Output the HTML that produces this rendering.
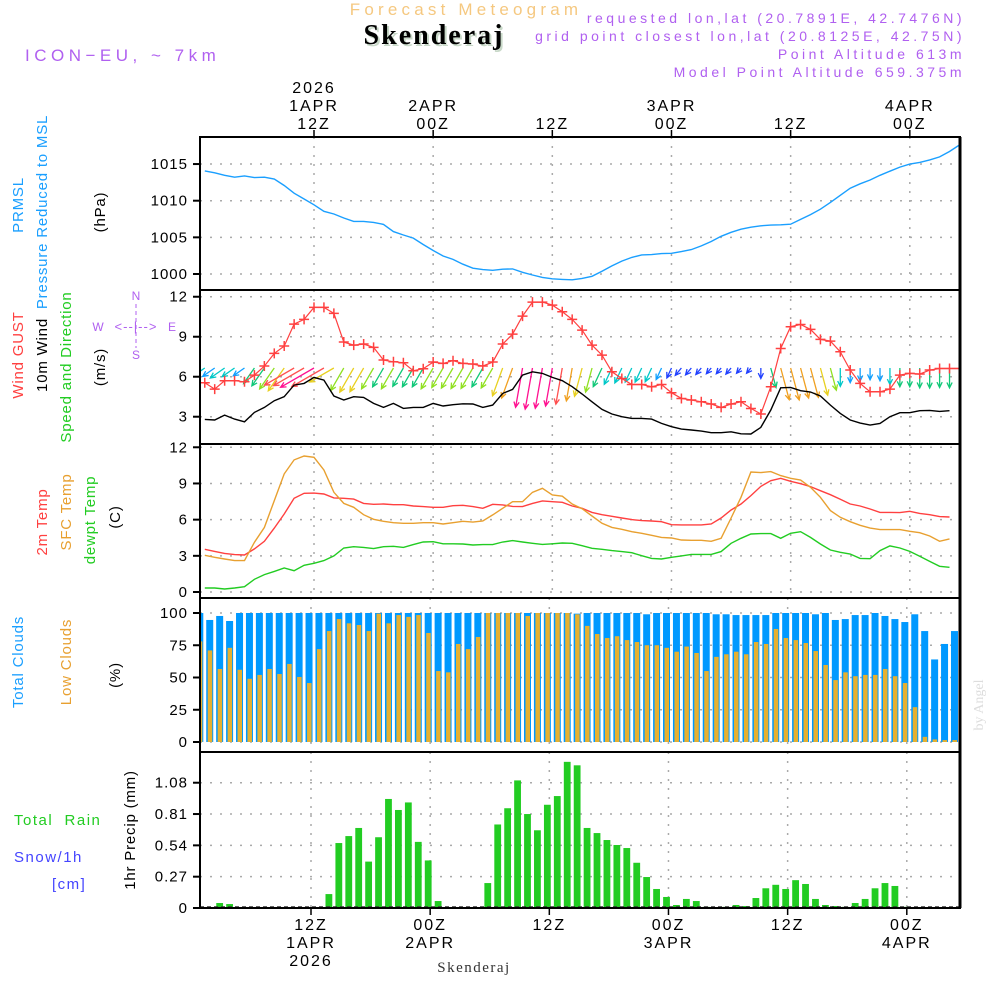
<!DOCTYPE html>
<html><head><meta charset="utf-8"><style>
html,body{margin:0;padding:0;background:#fff;}
svg{display:block;font-family:"Liberation Sans",sans-serif;}
</style></head><body>
<svg id="chart" width="1000" height="1000" viewBox="0 0 1000 1000" xmlns="http://www.w3.org/2000/svg">
<rect x="0" y="0" width="1000" height="1000" fill="#fff"/>
<defs>
<clipPath id="c1"><rect x="200" y="137" width="760" height="153"/></clipPath>
<clipPath id="c2"><rect x="200" y="290" width="760" height="154"/></clipPath>
<clipPath id="c3"><rect x="200" y="444" width="760" height="154"/></clipPath>
<clipPath id="c4"><rect x="200" y="598" width="760" height="154"/></clipPath>
<clipPath id="c5"><rect x="200" y="752" width="760" height="156"/></clipPath>
</defs>
<g>
<text x="466" y="15" text-anchor="middle" font-size="17" fill="#f5c880" letter-spacing="4.2">Forecast Meteogram</text>
<text x="436" y="46" text-anchor="middle" font-size="28" font-weight="bold" font-family="Liberation Serif,serif" fill="#c8d8c8" letter-spacing="2">Skenderaj</text>
<text x="434" y="44" text-anchor="middle" font-size="28" font-weight="bold" font-family="Liberation Serif,serif" fill="#000" letter-spacing="2">Skenderaj</text>
<text x="25" y="61" font-size="17" fill="#b060f0" letter-spacing="4.5">ICON−EU, ~ 7km</text>
<g font-size="14" fill="#b060f0" text-anchor="end" letter-spacing="3.5">
<text x="965" y="23">requested lon,lat (20.7891E, 42.7476N)</text>
<text x="965" y="41">grid point closest lon,lat (20.8125E, 42.75N)</text>
<text x="965" y="59">Point Altitude 613m</text>
<text x="965" y="77">Model Point Altitude 659.375m</text>
</g>
</g>
<g font-size="15" letter-spacing="0.8">
<text transform="translate(23,205) rotate(-90)" text-anchor="middle" fill="#1a9fff">PRMSL</text>
<text transform="translate(47,212) rotate(-90)" text-anchor="middle" fill="#1a9fff">Pressure Reduced to MSL</text>
<text transform="translate(105,212) rotate(-90)" text-anchor="middle" fill="#000">(hPa)</text>
<text transform="translate(23,355) rotate(-90)" text-anchor="middle" fill="#ff4040">Wind GUST</text>
<text transform="translate(47,355) rotate(-90)" text-anchor="middle" fill="#000">10m Wind</text>
<text transform="translate(71,367) rotate(-90)" text-anchor="middle" fill="#22cc22">Speed and Direction</text>
<text transform="translate(105,367) rotate(-90)" text-anchor="middle" fill="#000">(m/s)</text>
<g font-size="12" fill="#b060f0" text-anchor="middle" letter-spacing="0">
<text x="136" y="300">N</text><text x="98" y="331">W</text><text x="172" y="331">E</text><text x="136" y="359">S</text>
<text x="136" y="331" font-size="13" letter-spacing="1">&lt;--|--&gt;</text>
<line x1="136" y1="304" x2="136" y2="348" stroke="#b060f0" stroke-dasharray="4 3"/>
</g>
<text transform="translate(47,522) rotate(-90)" text-anchor="middle" fill="#ff4040">2m Temp</text>
<text transform="translate(71,512) rotate(-90)" text-anchor="middle" fill="#e8a030">SFC Temp</text>
<text transform="translate(95,520) rotate(-90)" text-anchor="middle" fill="#22cc22">dewpt Temp</text>
<text transform="translate(120,517) rotate(-90)" text-anchor="middle" fill="#000">(C)</text>
<text transform="translate(23,662) rotate(-90)" text-anchor="middle" fill="#1a9fff">Total Clouds</text>
<text transform="translate(71,662) rotate(-90)" text-anchor="middle" fill="#e8a030">Low Clouds</text>
<text transform="translate(120,675) rotate(-90)" text-anchor="middle" fill="#000">(%)</text>
<text x="14" y="825" fill="#22cc22" xml:space="preserve" letter-spacing="1.5">Total  Rain</text>
<text x="14" y="862" fill="#4444ff" letter-spacing="1.5">Snow/1h</text>
<text x="52" y="889" fill="#4444ff" letter-spacing="1.5">[cm]</text>
<text transform="translate(135,830) rotate(-90)" text-anchor="middle" fill="#000">1hr Precip (mm)</text>
</g>
<text transform="translate(983,705) rotate(-90)" text-anchor="middle" font-size="14" font-family="Liberation Serif,serif" fill="#ddd">by Angel</text>
<text x="474" y="972" text-anchor="middle" font-size="15" font-family="Liberation Serif,serif" fill="#333" letter-spacing="1.5">Skenderaj</text>
<g id="plot"></g>
</svg>
<script>
const pressure=[1014.07,1013.8,1013.47,1013.2,1013.38,1013.15,1013.2,1012.96,1012.08,1011.02,1010.23,1009.44,1008.56,1008.19,1007.64,1007.18,1007.18,1007.04,1006.76,1005.79,1005.32,1004.9,1004.03,1003.2,1002.45,1001.99,1001.34,1000.79,1000.6,1000.51,1000.65,1000.7,1000.23,999.86,999.54,999.35,999.26,999.21,999.4,999.68,1000.37,1001.1,1001.76,1002.27,1002.6,1002.64,1002.78,1002.82,1003.06,1003.33,1003.84,1004.44,1005.14,1005.69,1006.11,1006.39,1006.57,1006.67,1006.71,1006.8,1007.45,1008.1,1008.84,1009.77,1010.74,1011.71,1012.31,1012.82,1013.47,1014.03,1014.58,1015.0,1015.23,1015.56,1015.97,1016.71,1017.6];
const gust=[5.55,5.07,5.7,5.7,5.62,6.12,6.8,7.75,8.3,9.95,10.3,11.2,11.2,10.75,8.6,8.37,8.45,8.2,7.25,7.12,7.05,6.45,6.6,7.1,7.0,7.2,7.0,6.95,6.8,7.1,8.45,9.2,10.55,11.6,11.6,11.37,10.87,10.3,9.5,8.37,7.62,6.37,5.87,5.42,5.42,5.25,5.42,4.8,4.37,4.25,4.12,3.95,3.7,3.95,4.12,3.62,3.2,5.25,8.12,9.75,9.92,9.55,8.8,8.67,7.87,6.5,5.5,4.87,4.87,5.07,6.12,6.25,6.2,6.5,6.62,6.62,6.62];
const windSpeed=[2.8,2.75,3.12,2.82,2.62,3.32,3.7,4.2,4.5,5.37,5.5,5.95,5.75,4.55,4.25,4.5,4.45,4.0,3.7,4.0,3.62,3.7,3.7,4.0,3.8,3.9,3.97,3.95,3.7,3.87,4.75,5.05,6.12,6.37,6.25,5.95,5.7,5.25,4.7,4.12,3.55,3.2,3.0,2.87,2.87,2.82,2.5,2.25,2.07,2.0,1.92,1.8,1.8,1.87,1.72,1.7,2.2,3.5,5.17,5.2,4.95,4.85,4.55,3.87,3.25,2.75,2.52,2.37,2.5,3.0,3.3,3.3,3.45,3.47,3.4,3.45];
const windDirTo=[235,235,235,235,235,215,215,215,215,240,240,240,240,240,210,210,210,210,210,210,210,210,210,210,210,210,210,210,210,210,200,200,190,190,190,190,190,190,195,195,205,205,205,205,205,205,205,205,220,220,220,220,220,220,220,220,180,165,165,165,165,165,165,165,180,180,180,180,180,180,180,180,180,180,180,180];
const temp2m=[3.54,3.37,3.2,3.1,3.07,3.57,4.2,5.3,6.47,7.77,8.18,8.2,8.13,7.8,7.77,7.7,7.35,7.27,7.3,7.24,7.24,7.13,7.08,7.02,7.02,7.16,7.19,7.08,6.94,7.27,7.22,7.1,7.08,7.35,7.55,7.49,7.44,7.13,6.94,6.6,6.41,6.28,6.14,6.0,5.92,5.89,5.83,5.58,5.56,5.56,5.56,5.64,6.14,6.8,7.3,7.99,8.76,9.23,9.43,9.18,8.98,8.74,8.4,8.07,7.69,7.3,7.13,6.88,6.6,6.6,6.58,6.69,6.52,6.41,6.25,6.22];
const tempSfc=[3.04,2.88,2.74,2.6,2.6,4.12,5.36,7.58,9.79,10.95,11.28,11.17,10.12,8.27,7.35,7.02,6.41,6.03,5.86,5.75,5.7,5.7,5.75,5.75,5.64,5.75,5.86,5.8,5.89,6.39,6.94,7.49,7.49,8.27,8.6,8.05,7.94,7.3,6.91,6.3,5.7,5.36,5.2,5.0,4.87,4.7,4.53,4.48,4.31,4.29,4.29,4.2,4.45,6.14,7.85,9.95,9.9,9.98,9.65,9.43,9.29,8.68,7.85,6.75,6.19,5.83,5.53,5.3,5.17,5.17,5.17,5.03,4.92,4.64,4.2,4.4];
const dewpt=[0.33,0.33,0.25,0.33,0.44,1.05,1.44,1.71,1.99,1.77,2.21,2.38,2.6,2.99,3.65,3.76,3.7,3.6,3.76,3.79,3.7,3.93,4.15,4.17,4.0,4.0,3.98,3.9,3.93,3.93,4.15,4.26,4.15,4.04,3.95,4.0,4.06,4.04,3.84,3.62,3.54,3.43,3.35,3.26,3.01,2.79,2.74,2.88,2.99,3.12,3.12,3.12,3.35,4.04,4.45,4.81,4.84,4.84,4.45,4.87,5.0,4.53,3.98,3.48,3.29,3.15,2.79,2.76,3.43,3.82,3.65,3.37,2.96,2.54,2.13,2.05];
const totalCloud=[100,94.6,97.7,93.8,100,100,100,100,100,100,100,100,100,100,100,100,100,100,100,100,100,100,100,100,100,100,100,100,100,100,100,100,100,100,100,100,100,100,99.5,100,100,100,100,100,100,99,100,100,100,100,100,100,99,99,98.4,98.4,98.4,98.4,100,100,100,100,99,100,94.6,95.3,98.4,98.4,100,97.7,95.3,93,99,86,64,76,86];
const lowCloud=[78,71,56.6,73,56,49,52,56.6,52.7,60.5,50.4,45.7,72,86,95.3,92,90.7,86,99.5,92,98.4,97,98.4,84.5,55,54,76,72,81.4,100,100,100,100,97.7,100,100,100,100,99,90,83.7,80.6,82,79,77.5,75,75,73,70,74,69,55,66,68,70,68,77.5,76,87.6,80.6,79,76.7,70.5,59.7,48,54,51,52,52,56.6,51,45.7,27,4,2,1.5,1.5];
const precip=[0,0,0.043,0.034,0.003,0,0,0,0,0,0,0,0,0.12,0.56,0.62,0.69,0.40,0.61,0.94,0.845,0.91,0.57,0.41,0.06,0,0,0,0.003,0.215,0.72,0.86,1.10,0.81,0.67,0.89,0.965,1.26,1.23,0.69,0.646,0.586,0.543,0.517,0.39,0.267,0.164,0.095,0.026,0.078,0.06,0.01,0,0.01,0.026,0.017,0.086,0.17,0.2,0.164,0.24,0.207,0.078,0.026,0.017,0.01,0.043,0.078,0.17,0.215,0.19,0.01,0,0,0,0,0];
const pTicks=[1000,1005,1010,1015];
const wTicks=[3,6,9,12];
const tTicks=[0,3,6,9,12];
const cTicks=[0,25,50,75,100];
const rTicks=[0,0.27,0.54,0.81,1.08];
const rTickLabels=["0","0.27","0.54","0.81","1.08"];
const timeTicks=[12,24,36,48,60,72];
const topLabels=[["2026","1APR","12Z"],["","2APR","00Z"],["","","12Z"],["","3APR","00Z"],["","","12Z"],["","4APR","00Z"]];
const bottomLabels=[["12Z","1APR","2026"],["00Z","2APR",""],["12Z","",""],["00Z","3APR",""],["12Z","",""],["00Z","4APR",""]];

const NS="http://www.w3.org/2000/svg";
const plot=document.getElementById('plot');
function xT(t){return 314+(t-12)*9.93;}
function yP(p){return 274-(p-1000)*7.33;}
function yW(v){return 456.7-13.33*v;}
function yT(t){return 592-12.06*t;}
function yC(c){return 742-1.29*c;}
function yR(r){return 908-116*r;}
function mk(tag,attrs,parent){const e=document.createElementNS(NS,tag);for(const k in attrs)e.setAttribute(k,attrs[k]);(parent||plot).appendChild(e);return e;}
const panels=[{y0:137,y1:290,clip:'c1',ticks:pTicks,f:yP,lab:pTicks.map(String),name:'pressure'},
{y0:290,y1:444,clip:'c2',ticks:wTicks,f:yW,lab:wTicks.map(String),name:'wind'},
{y0:444,y1:598,clip:'c3',ticks:tTicks,f:yT,lab:tTicks.map(String),name:'temp'},
{y0:598,y1:752,clip:'c4',ticks:cTicks,f:yC,lab:cTicks.map(String),name:'clouds'},
{y0:752,y1:908,clip:'c5',ticks:rTicks,f:yR,lab:rTickLabels,name:'precip'}];
panels.forEach((pn,pi)=>{
  const g=mk('g',{'clip-path':'url(#'+pn.clip+')'});
  
  
  const off=pi>=3?-3:0;
  timeTicks.forEach(t=>{mk('line',{x1:xT(t)+off,x2:xT(t)+off,y1:pn.y0,y2:pn.y1,stroke:'#aaa','stroke-width':1.5,'stroke-dasharray':'2 7'},g);});
  pn.ticks.forEach((v,k)=>{
    const y=pn.f(v);
    mk('line',{x1:200,x2:960,y1:y,y2:y,stroke:'#aaa','stroke-width':1.5,'stroke-dasharray':'2 8'},g);
    const tk=mk('line',{x1:193,x2:200,y1:y,y2:y,stroke:'#000','stroke-width':2});
    
    
    const tx=mk('text',{x:188,y:y+5,'text-anchor':'end','font-size':15,fill:'#000','letter-spacing':1});
    tx.textContent=pn.lab[k];
    
    
  });
});
const gc=mk('g',{'clip-path':'url(#c4)'});


totalCloud.forEach((v,i)=>{
  const c=xT(i+0.5);
  const b=mk('rect',{x:c-3.5,y:yC(v),width:7,height:yC(0)-yC(v),fill:'#0099ff'},gc);
  
  
  const o=mk('rect',{x:c-2,y:yC(lowCloud[i]),width:4.5,height:yC(0)-yC(lowCloud[i]),fill:'#e6b030'},gc);
  
  
});
const gr=mk('g',{'clip-path':'url(#c5)'});


precip.forEach((v,i)=>{
  if(v<=0)return;
  const c=xT(i+0.5);
  const b=mk('rect',{x:c-3.4,y:yR(v),width:6.8,height:yR(0)-yR(v),fill:'#22cc22'},gr);
  
  
});
mk('line',{x1:200,x2:960,y1:907,y2:907,stroke:'#333','stroke-width':1.5,'stroke-dasharray':'4 3'});
function line(arr,fy,color,clip,name,w){
  const pts=arr.map((v,j)=>xT(j+1).toFixed(1)+','+fy(v).toFixed(1)).join(' ');
  const p=mk('polyline',{points:pts,fill:'none',stroke:color,'stroke-width':w||1.4,'clip-path':'url(#'+clip+')'});
  
  
}
line(pressure,yP,'#1a9fff','c1','pressure-line');
function wcol(v){if(v<2.3)return'#2040ff';if(v<2.8)return'#10a0ff';if(v<3.3)return'#00c8c8';if(v<3.8)return'#10c878';if(v<4.3)return'#90e020';if(v<4.8)return'#e8d020';if(v<5.3)return'#f0a020';if(v<5.8)return'#ff5050';return'#ff1090';}
const ga=mk('g',{'clip-path':'url(#c2)','stroke-width':1.3,fill:'none'});


windSpeed.forEach((v,j)=>{
  const x0=xT(j+1),y0=368,L=Math.max(6,7.5*v-6),a=windDirTo[j]*Math.PI/180;
  const dx=Math.sin(a),dy=-Math.cos(a),x1=x0+L*dx,y1=y0+L*dy;
  const col=wcol(v),h=6,s=0.45;
  const ax=Math.sin(a+Math.PI-s),ay=-Math.cos(a+Math.PI-s),bx=Math.sin(a+Math.PI+s),by=-Math.cos(a+Math.PI+s);
  const p=mk('path',{d:`M${x0},${y0}L${x1},${y1}M${x1+h*ax},${y1+h*ay}L${x1},${y1}L${x1+h*bx},${y1+h*by}`,stroke:col},ga);
  
  
});
line(gust,yW,'#ff4040','c2','gust-line',1.2);
line(windSpeed,yW,'#000','c2','wind-speed-line',1.4);
const gg=mk('g',{'clip-path':'url(#c2)',stroke:'#ff4040','stroke-width':1.5});


gust.forEach((v,j)=>{const x=xT(j+1),y=yW(v);
  const p=mk('path',{d:`M${x-5},${y}H${x+5}M${x},${y-5}V${y+5}`},gg);
  
  });
line(temp2m,yT,'#ff4040','c3','temp-2m-line');
line(tempSfc,yT,'#e8a030','c3','temp-sfc-line');
line(dewpt,yT,'#22cc22','c3','dewpoint-line');
panels.forEach(pn=>{
  const r=mk('rect',{x:200,y:pn.y0,width:760,height:pn.y1-pn.y0,fill:'none',stroke:'#000','stroke-width':2});
  
  
});
mk('line',{x1:960,x2:960,y1:137,y2:908,stroke:'#000','stroke-width':3});
timeTicks.forEach((t,k)=>{
  const x=xT(t);
  mk('line',{x1:x,x2:x,y1:130,y2:137,stroke:'#000','stroke-width':1.5});
  topLabels[k].forEach((s,r)=>{if(!s)return;const tx=mk('text',{x:x,y:93+r*18,'text-anchor':'middle','font-size':16,fill:'#000','letter-spacing':2});tx.textContent=s;
    
    });
  const xb=x-3;
  mk('line',{x1:xb,x2:xb,y1:908,y2:915,stroke:'#000','stroke-width':1.5});
  bottomLabels[k].forEach((s,r)=>{if(!s)return;const tx=mk('text',{x:xb,y:930+r*18,'text-anchor':'middle','font-size':16,fill:'#000','letter-spacing':2});tx.textContent=s;
    
    });
});
</script>
</body></html>
